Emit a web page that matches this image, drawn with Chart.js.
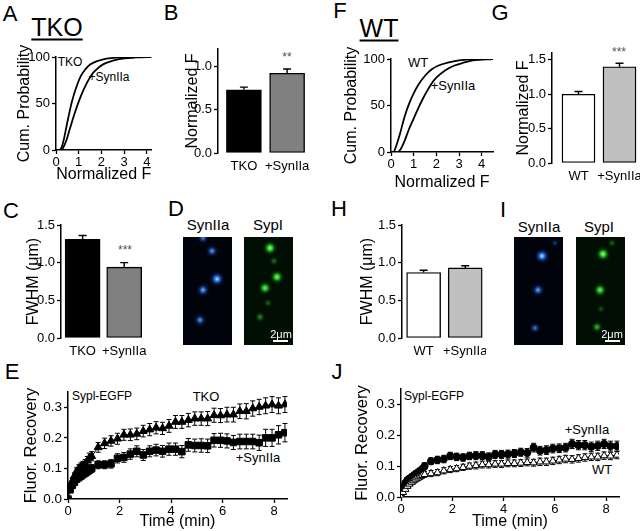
<!DOCTYPE html>
<html><head><meta charset="utf-8">
<script src="https://cdn.jsdelivr.net/npm/chart.js@4.4.0/dist/chart.umd.min.js"></script>
<style>
body{margin:0;background:#fff;width:640px;height:531px;overflow:hidden;position:relative;font-family:'Liberation Sans',Arial,Helvetica,sans-serif;}
canvas{position:absolute;}
.t{position:absolute;white-space:nowrap;color:#000;line-height:1;transform:translate(-50%,-50%);}
.l{position:absolute;white-space:nowrap;color:#000;line-height:1;transform:translate(0,-50%);}
.bar{position:absolute;background:#fff;height:2px;}
</style></head><body>
<div class="t" style="left:10px;top:14px;font-size:22px">A</div>
<div class="t" style="left:57px;top:27px;font-size:25px;text-decoration:underline;text-decoration-thickness:2px;text-underline-offset:3px">TKO</div>
<div class="t" style="left:70px;top:62px;font-size:12px">TKO</div>
<div class="t" style="left:109px;top:77px;font-size:12px">+SynIIa</div>
<div class="t" style="left:171px;top:13px;font-size:22px">B</div>
<div class="t" style="left:287px;top:57px;font-size:12px;color:#555">**</div>
<div class="t" style="left:340px;top:11px;font-size:22px">F</div>
<div class="t" style="left:379px;top:28px;font-size:25px;text-decoration:underline;text-decoration-thickness:2px;text-underline-offset:3px">WT</div>
<div class="t" style="left:418px;top:62px;font-size:13px">WT</div>
<div class="t" style="left:453px;top:85px;font-size:13px">+SynIIa</div>
<div class="t" style="left:500px;top:13px;font-size:22px">G</div>
<div class="t" style="left:619px;top:52px;font-size:12px;color:#555">***</div>
<div class="t" style="left:11px;top:211px;font-size:22px">C</div>
<div class="t" style="left:125px;top:250px;font-size:12px;color:#555">***</div>
<div class="t" style="left:176px;top:209px;font-size:22px">D</div>
<div class="t" style="left:208px;top:224px;font-size:15px">SynIIa</div>
<div class="t" style="left:268px;top:224px;font-size:15px">SypI</div>
<div class="t" style="left:339px;top:209px;font-size:22px">H</div>
<div class="t" style="left:503px;top:210px;font-size:22px">I</div>
<div class="t" style="left:539px;top:226px;font-size:15px">SynIIa</div>
<div class="t" style="left:599px;top:226px;font-size:15px">SypI</div>
<div class="t" style="left:12px;top:372px;font-size:22px">E</div>
<div class="l" style="left:72px;top:396px;font-size:12px">Sypl-EGFP</div>
<div class="t" style="left:206px;top:396px;font-size:13px">TKO</div>
<div class="t" style="left:258px;top:457px;font-size:13px">+SynIIa</div>
<div class="t" style="left:337px;top:372px;font-size:22px">J</div>
<div class="l" style="left:404px;top:396px;font-size:12px">Sypl-EGFP</div>
<div class="t" style="left:587px;top:429px;font-size:13px">+SynIIa</div>
<div class="t" style="left:602px;top:469px;font-size:13px">WT</div>
<script>
// ---------- DATA ----------
const cumTicksX = [0, 1, 2, 3, 4];
const cumTicksY = [0, 50, 100];
// Panel A cumulative distributions (TKO)
const aTKOx = [0, 0.15, 0.25, 0.35, 0.5, 0.7, 0.9, 1.1, 1.3, 1.5, 1.75, 2.0, 2.5, 3.0, 3.5, 4.2];
const aTKOy = [0, 0, 3, 12, 30, 52, 68, 80, 87, 92, 95, 97, 99, 99.7, 100, 100];
const aSynx = [0, 0.2, 0.3, 0.45, 0.6, 0.8, 1.0, 1.2, 1.4, 1.6, 1.8, 2.0, 2.5, 3.0, 3.5, 4.2];
const aSyny = [0, 0, 2, 10, 22, 38, 52, 64, 74, 82, 87, 91, 96, 98.5, 99.5, 100];
// Panel F cumulative distributions (WT)
const fWTx = [0, 0.1, 0.25, 0.4, 0.6, 0.8, 1.0, 1.2, 1.5, 1.8, 2.1, 2.5, 3.0, 3.5, 4.5];
const fWTy = [0, 0, 8, 20, 38, 52, 63, 72, 82, 89, 93, 96, 98.5, 99.5, 100];
const fSynx = [0, 0.3, 0.45, 0.6, 0.8, 1.0, 1.2, 1.4, 1.6, 1.8, 2.0, 2.4, 2.8, 3.2, 3.6, 4.5];
const fSyny = [0, 0, 4, 12, 25, 36, 47, 57, 66, 74, 80, 88, 93, 96, 98.5, 100];
// Bar panels
const bCats = ['TKO', '+SynIIa'];
const bVals = [0.73, 0.92];
const bErr = [0.03, 0.05];
const bTicks = [0, 0.5, 1.0];
const gCats = ['WT', '+SynIIa'];
const gVals = [1.0, 1.40];
const gErr = [0.04, 0.05];
const gTicks = [0, 0.5, 1.0, 1.5];
const cCats = ['TKO', '+SynIIa'];
const cVals = [1.31, 0.94];
const cErr = [0.05, 0.06];
const hCats = ['WT', '+SynIIa'];
const hVals = [0.87, 0.93];
const hErr = [0.03, 0.03];
const fwhmTicks = [0, 0.5, 1.0, 1.5];
// FRAP time courses
const recTicksX = [0, 2, 4, 6, 8];
const recTicksY = [0, 0.1, 0.2, 0.3];
const eTime = [0,0.08,0.17,0.25,0.33,0.42,0.5,0.58,0.67,0.75,0.83,0.92,1.17,1.42,1.67,1.92,2.17,2.42,2.67,2.92,3.17,3.42,3.67,3.92,4.17,4.42,4.67,4.92,5.17,5.42,5.67,5.92,6.17,6.42,6.67,6.92,7.17,7.42,7.67,7.92,8.17,8.42];
const eTKO = [0,0.04,0.06,0.075,0.09,0.1,0.105,0.11,0.115,0.125,0.135,0.14,0.169,0.182,0.19,0.197,0.21,0.21,0.213,0.222,0.227,0.233,0.231,0.239,0.252,0.252,0.258,0.263,0.263,0.263,0.274,0.273,0.276,0.276,0.287,0.287,0.296,0.301,0.305,0.309,0.305,0.309];
const eTKOErr = [0,0.008,0.01,0.01,0.012,0.012,0.013,0.013,0.014,0.014,0.015,0.015,0.016,0.017,0.017,0.018,0.018,0.019,0.019,0.019,0.02,0.02,0.02,0.021,0.021,0.021,0.022,0.022,0.022,0.023,0.023,0.023,0.024,0.024,0.024,0.025,0.025,0.025,0.026,0.026,0.026,0.026];
const eSyn = [0,0.03,0.045,0.055,0.065,0.07,0.075,0.08,0.085,0.09,0.095,0.1,0.112,0.112,0.115,0.133,0.136,0.147,0.156,0.144,0.156,0.16,0.156,0.163,0.163,0.155,0.177,0.175,0.175,0.174,0.192,0.192,0.19,0.185,0.188,0.188,0.188,0.184,0.2,0.2,0.21,0.217];
const eSynErr = [0,0.008,0.01,0.01,0.01,0.011,0.011,0.012,0.012,0.012,0.013,0.013,0.013,0.013,0.014,0.015,0.016,0.017,0.018,0.018,0.018,0.019,0.019,0.02,0.02,0.02,0.021,0.021,0.022,0.022,0.022,0.023,0.023,0.023,0.024,0.024,0.024,0.025,0.028,0.028,0.03,0.03];
const jTime = eTime;
const jSyn = [0,0.03,0.045,0.055,0.06,0.065,0.07,0.075,0.08,0.085,0.09,0.1,0.116,0.12,0.123,0.133,0.13,0.128,0.133,0.134,0.134,0.13,0.138,0.138,0.139,0.141,0.145,0.143,0.16,0.15,0.152,0.157,0.158,0.16,0.172,0.168,0.168,0.163,0.166,0.172,0.165,0.165];
const jSynErr = [0,0.006,0.008,0.008,0.009,0.009,0.01,0.01,0.01,0.01,0.011,0.011,0.011,0.012,0.012,0.012,0.012,0.012,0.012,0.013,0.013,0.013,0.013,0.013,0.013,0.013,0.013,0.014,0.014,0.014,0.014,0.014,0.014,0.014,0.015,0.015,0.015,0.015,0.015,0.015,0.016,0.016];
const jWT = [0,0.015,0.025,0.035,0.042,0.048,0.053,0.058,0.062,0.066,0.07,0.073,0.076,0.079,0.085,0.089,0.092,0.096,0.1,0.102,0.105,0.105,0.107,0.107,0.109,0.109,0.11,0.112,0.111,0.114,0.114,0.117,0.12,0.123,0.122,0.125,0.128,0.13,0.13,0.134,0.133,0.136];
const jWTErr = [0,0.005,0.006,0.007,0.007,0.008,0.008,0.008,0.009,0.009,0.009,0.009,0.01,0.01,0.01,0.01,0.01,0.01,0.01,0.011,0.011,0.011,0.011,0.011,0.011,0.011,0.011,0.011,0.011,0.012,0.012,0.012,0.012,0.012,0.012,0.012,0.012,0.012,0.012,0.012,0.012,0.012];
// Micrograph puncta (image pixel coords, intensity 0-1)
const dBlueX = [20, 29, 34, 20, 17];
const dBlueY = [1, 14, 42, 53, 83];
const dBlueI = [0.6, 0.7, 1.0, 0.8, 0.7];
const dGreenX = [26, 33, 21, 16, 30, 24];
const dGreenY = [11, 40, 51, 80, 24, 66];
const dGreenI = [1.0, 0.95, 0.9, 0.45, 0.35, 0.3];
const iBlueX = [28, 24, 21, 41];
const iBlueY = [19, 53, 91, 6];
const iBlueI = [1.0, 0.75, 0.55, 0.25];
const iGreenX = [27, 24, 21, 36, 25];
const iGreenY = [17, 53, 90, 6, 72];
const iGreenI = [1.0, 0.9, 0.6, 0.3, 0.25];

// ---------- SETUP ----------
Chart.defaults.font.family = "'Liberation Sans', Arial, Helvetica, sans-serif";
Chart.defaults.color = '#000';
Chart.defaults.animation = false;
Chart.defaults.plugins.legend.display = false;
Chart.defaults.plugins.tooltip.enabled = false;

const errorBars = {
  id: 'errorBars',
  beforeDatasetsDraw(chart, a, o) { if (o.before) drawErr(chart); },
  afterDatasetsDraw(chart, a, o) { if (!o.before) drawErr(chart); }
};
function drawErr(chart) {
  const ctx = chart.ctx;
  chart.data.datasets.forEach((ds, i) => {
    if (!ds.errors) return;
    const meta = chart.getDatasetMeta(i);
    const ys = chart.scales[meta.yAxisID];
    ctx.save();
    ctx.strokeStyle = '#000';
    ctx.lineWidth = ds.errWidth || 1;
    meta.data.forEach((el, j) => {
      const v = ds.data[j].y, e = ds.errors[j];
      if (!e) return;
      const x = el.x, yT = ys.getPixelForValue(v + e);
      const yB = ds.errUp ? el.y : ys.getPixelForValue(v - e);
      const cw = ds.cap;
      ctx.beginPath();
      ctx.moveTo(x, yT); ctx.lineTo(x, yB);
      ctx.moveTo(x - cw, yT); ctx.lineTo(x + cw, yT);
      if (!ds.errUp) { ctx.moveTo(x - cw, yB); ctx.lineTo(x + cw, yB); }
      ctx.stroke();
    });
    ctx.restore();
  });
}
const areaFill = {
  id: 'areaFill',
  beforeDraw(chart, a, o) {
    if (!o.color) return;
    const {ctx, chartArea: c} = chart;
    ctx.save(); ctx.fillStyle = o.color; ctx.fillRect(c.left, c.top, c.right - c.left, c.bottom - c.top); ctx.restore();
  }
};
Chart.register(errorBars, areaFill);

function place(box) {
  const c = document.createElement('canvas');
  c.width = box.w; c.height = box.h;
  c.style.left = box.x + 'px'; c.style.top = box.y + 'px';
  c.style.width = box.w + 'px'; c.style.height = box.h + 'px';
  document.body.appendChild(c);
  return c;
}
const pts = (xs, ys) => xs.map((x, i) => ({x, y: ys[i]}));
const fixTicks = arr => s => { s.ticks = arr.map(v => ({value: v})); };

function axisX(box, area, o) {
  return Object.assign({
    type: 'linear', offset: false,
    afterFit: s => { s.height = box.y + box.h - area.b; s.paddingLeft = 0; s.paddingRight = 0; },
    grid: {display: true, drawOnChartArea: false, drawTicks: true, tickLength: 4, tickColor: '#000', tickWidth: 1.3, color: '#000'},
    border: {display: true, color: '#000', width: 1.5},
    ticks: {font: {size: 13}, padding: 1, maxRotation: 0, autoSkip: false, color: '#000'}
  }, o);
}
function axisY(box, area, o) {
  return Object.assign({
    type: 'linear',
    afterFit: s => { s.width = area.l - box.x; s.paddingTop = 0; s.paddingBottom = 0; },
    grid: {display: true, drawOnChartArea: false, drawTicks: true, tickLength: 4, tickColor: '#000', tickWidth: 1.3, color: '#000'},
    border: {display: true, color: '#000', width: 1.5},
    ticks: {font: {size: 13}, padding: 2, autoSkip: false, color: '#000'}
  }, o);
}
function pad(box, area) {
  return {left: 0, top: area.t - box.y, right: box.x + box.w - area.r, bottom: 0};
}

// ---------- CUMULATIVE PANELS ----------
function cumChart(box, area, xmax, s1x, s1y, s2x, s2y) {
  new Chart(place(box), {
    type: 'line',
    data: {datasets: [
      {data: pts(s1x, s1y), borderColor: '#000', borderWidth: 1.8, pointRadius: 0, cubicInterpolationMode: 'monotone', fill: false},
      {data: pts(s2x, s2y), borderColor: '#000', borderWidth: 1.8, pointRadius: 0, cubicInterpolationMode: 'monotone', fill: false}
    ]},
    options: {
      responsive: false, devicePixelRatio: 1,
      layout: {padding: pad(box, area), autoPadding: false},
      scales: {
        x: axisX(box, area, {min: 0, max: xmax, afterBuildTicks: fixTicks(cumTicksX),
          title: {display: true, text: 'Normalized F', font: {size: 16}, padding: 0, color: '#000'}}),
        y: axisY(box, area, {min: 0, max: 100, afterBuildTicks: fixTicks(cumTicksY),
          title: {display: true, text: 'Cum. Probability', font: {size: 16}, padding: 0, color: '#000'}})
      }
    }
  });
}
cumChart({x: 15, y: 45, w: 145, h: 139}, {l: 56, t: 57, r: 151.5, b: 150}, 4.2, aTKOx, aTKOy, aSynx, aSyny);
cumChart({x: 342, y: 47, w: 159, h: 145}, {l: 391, t: 59, r: 493, b: 152}, 4.5, fWTx, fWTy, fSynx, fSyny);

// ---------- BAR PANELS ----------
function barChart(box, area, xmin, xmax, cats, vals, errs, colors, ymax, yticks, ytitle, thick) {
  new Chart(place(box), {
    type: 'bar',
    data: {datasets: [{
      data: vals.map((v, i) => ({x: i, y: v})),
      backgroundColor: colors, borderColor: '#000', borderWidth: 1.4, borderSkipped: false,
      barThickness: thick, errors: errs, errUp: true, cap: 4, errWidth: 1.4
    }]},
    options: {
      responsive: false, devicePixelRatio: 1,
      layout: {padding: pad(box, area), autoPadding: false},
      plugins: {errorBars: {before: false}},
      scales: {
        x: axisX(box, area, {min: xmin, max: xmax, afterBuildTicks: fixTicks(cats.map((c, i) => i)),
          grid: {display: false, drawTicks: false}, border: {display: false},
          ticks: {font: {size: 13}, padding: 6, maxRotation: 0, autoSkip: false, color: '#000', callback: (v, i) => cats[i]}}),
        y: axisY(box, area, {min: 0, max: ymax, afterBuildTicks: fixTicks(yticks),
          ticks: {font: {size: 13}, padding: 2, autoSkip: false, color: '#000', callback: v => v.toFixed(1)},
          title: {display: true, text: ytitle, font: {size: 16}, padding: 0, color: '#000'}})
      }
    }
  });
}
barChart({x: 183, y: 38, w: 137, h: 142}, {l: 218, t: 49, r: 310, b: 153}, -0.6, 1.53, bCats, bVals, bErr, ['#000000', '#808080'], 1.2, bTicks, 'Normalized F', 35);
barChart({x: 514, y: 42, w: 126, h: 145}, {l: 552, t: 53, r: 640, b: 163}, -0.646, 1.5, gCats, gVals, gErr, ['#ffffff', '#c0c0c0'], 1.6, gTicks, 'Normalized F', 33);
barChart({x: 24, y: 214, w: 126, h: 150}, {l: 61, t: 225, r: 145, b: 338}, -0.52, 1.5, cCats, cVals, cErr, ['#000000', '#808080'], 1.5, fwhmTicks, 'FWHM (\u03bcm)', 35);
barChart({x: 358, y: 214, w: 128, h: 150}, {l: 402, t: 225, r: 486, b: 338}, -0.52, 1.5, hCats, hVals, hErr, ['#ffffff', '#c0c0c0'], 1.5, fwhmTicks, 'FWHM (\u03bcm)', 34);

// ---------- RECOVERY PANELS ----------
function recChart(box, area, sets) {
  new Chart(place(box), {
    type: 'line',
    data: {datasets: sets},
    options: {
      responsive: false, devicePixelRatio: 1,
      layout: {padding: pad(box, area), autoPadding: false},
      plugins: {errorBars: {before: true}},
      scales: {
        x: axisX(box, area, {min: 0, max: 8.5, afterBuildTicks: fixTicks(recTicksX),
          ticks: {font: {size: 13}, padding: 1, maxRotation: 0, autoSkip: false, color: '#000'},
          title: {display: true, text: 'Time (min)', font: {size: 16}, padding: 0, color: '#000'}}),
        y: axisY(box, area, {min: 0, max: 0.35, afterBuildTicks: fixTicks(recTicksY),
          ticks: {font: {size: 13.5}, padding: 2, autoSkip: false, color: '#000', callback: v => v.toFixed(1)},
          title: {display: true, text: 'Fluor. Recovery', font: {size: 16.5}, padding: 0, color: '#000'}})
      }
    }
  });
}
const series = (t, v, e, style, r, fill) => ({
  data: pts(t, v), errors: e, cap: 2.5, errWidth: 1,
  borderColor: '#000', borderWidth: 1, pointStyle: style, pointRadius: r,
  pointBackgroundColor: fill, pointBorderColor: '#000', pointBorderWidth: 1, fill: false, tension: 0
});
recChart({x: 22, y: 380, w: 278, h: 151}, {l: 68, t: 392, r: 287, b: 499}, [
  series(eTime, eSyn, eSynErr, 'rect', 4.6, '#000'),
  series(eTime, eTKO, eTKOErr, 'triangle', 4.6, '#000')
]);
recChart({x: 353, y: 377, w: 282, h: 154}, {l: 401, t: 389, r: 619, b: 497}, [
  series(jTime, jWT, jWTErr, 'triangle', 4.2, '#fff'),
  series(jTime, jSyn, jSynErr, 'circle', 3.6, '#000')
]);

// ---------- MICROGRAPHS ----------
function spotChart(box, bg, xs, ys, is, core, mid, rgb) {
  new Chart(place(box), {
    type: 'bubble',
    data: {datasets: [{
      data: xs.map((x, i) => ({x, y: ys[i], r: 4 + 3.5 * is[i], i: is[i]})),
      borderWidth: 0, clip: 0,
      backgroundColor: c => {
        const fallback = `rgba(${mid},0.8)`;
        if (c.type !== 'data' || !c.raw) return fallback;
        const ch = c.chart, sx = ch.scales.x, sy = ch.scales.y;
        if (!sx || !sy) return fallback;
        const px = sx.getPixelForValue(c.raw.x), py = sy.getPixelForValue(c.raw.y), r = c.raw.r, k = c.raw.i;
        if (!Number.isFinite(px) || !Number.isFinite(py) || !Number.isFinite(r)) return fallback;
        const g = ch.ctx.createRadialGradient(px, py, 0, px, py, r);
        g.addColorStop(0, `rgba(${core},${k})`);
        g.addColorStop(0.35, `rgba(${mid},${0.85 * k})`);
        g.addColorStop(0.7, `rgba(${rgb},${0.25 * k})`);
        g.addColorStop(1, `rgba(${rgb},0)`);
        return g;
      }
    }]},
    options: {
      responsive: false, devicePixelRatio: 1,
      layout: {padding: 0, autoPadding: false},
      plugins: {areaFill: {color: bg}},
      scales: {
        x: {type: 'linear', min: 0, max: box.w, display: false},
        y: {type: 'linear', min: 0, max: box.h, reverse: true, display: false}
      }
    }
  });
}
spotChart({x: 183, y: 237, w: 49, h: 108}, '#00030c', dBlueX, dBlueY, dBlueI, '190,235,255', '40,130,255', '20,70,200');
spotChart({x: 244, y: 237, w: 49, h: 108}, '#010e03', dGreenX, dGreenY, dGreenI, '170,255,150', '40,220,40', '20,140,20');
spotChart({x: 514, y: 237, w: 49, h: 108}, '#00030c', iBlueX, iBlueY, iBlueI, '190,235,255', '40,130,255', '20,70,200');
spotChart({x: 576, y: 237, w: 49, h: 108}, '#010e03', iGreenX, iGreenY, iGreenI, '170,255,150', '40,220,40', '20,140,20');
</script>
<div class="t" style="left:281px;top:334px;font-size:11px;color:#fff">2μm</div>
<div class="bar" style="left:273px;top:340px;width:15px"></div>
<div class="t" style="left:612px;top:334px;font-size:11px;color:#fff">2μm</div>
<div class="bar" style="left:605px;top:340px;width:15px"></div>
</body></html>
